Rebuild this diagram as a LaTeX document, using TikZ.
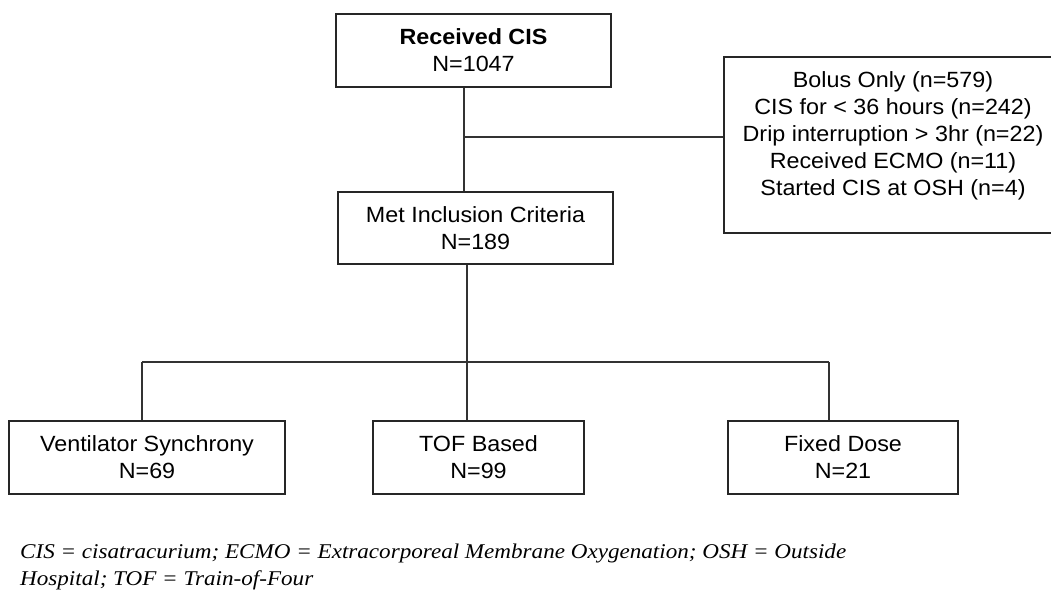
\documentclass[tikz,border=0pt]{standalone}
\usepackage{fontspec}
\setmainfont{Liberation Sans}[FakeStretch=1.06]
\newfontfamily\capfont{Liberation Serif}[FakeStretch=1.1]
\begin{document}
\begin{tikzpicture}[x=1pt,y=-1pt,
  box/.style={draw=black!85,line width=1.2pt,rectangle,inner sep=0pt,align=center,
    font=\fontsize{22}{27}\selectfont},
  conn/.style={draw=black!80,line width=1.2pt}]
\useasboundingbox[fill=white] (0,0) rectangle (1051,591);
\node[box,minimum width=275pt,minimum height=73pt] (rec) at (473.5,50.5) {\textbf{Received CIS}\\N=1047};
\node[box,minimum width=275pt,minimum height=72pt] (met) at (475.5,228) {Met Inclusion Criteria\\N=189};
\node[box,minimum width=338pt,minimum height=176pt] (excl) at (893,145) {};
\node[align=center,inner sep=0pt,font=\fontsize{22}{27}\selectfont] (excltext) at (893,135.5)
  {Bolus Only (n=579)\\CIS for {\textless} 36 hours (n=242)\\Drip interruption {\textgreater} 3hr (n=22)\\Received ECMO (n=11)\\Started CIS at OSH (n=4)};
\node[box,minimum width=276pt,minimum height=73pt] (vent) at (147,457.5) {Ventilator Synchrony\\N=69};
\node[box,minimum width=211pt,minimum height=73pt] (tof) at (478.5,457.5) {TOF Based\\N=99};
\node[box,minimum width=230pt,minimum height=73pt] (fixed) at (843,457.5) {Fixed Dose\\N=21};
\coordinate (j1) at (464,137);
\coordinate (j2) at (467,362);
\coordinate (jl) at (142,362);
\coordinate (jr) at (829,362);
\draw[conn] (rec.south -| j1) -- (met.north -| j1);
\draw[conn] (j1) -- (excl.west |- j1);
\draw[conn] (met.south -| j2) -- (j2);
\draw[conn] (jl) -- (jr);
\draw[conn] (jl) -- (vent.north -| jl);
\draw[conn] (j2) -- (tof.north -| j2);
\draw[conn] (jr) -- (fixed.north -| jr);
\node[anchor=west,align=left,inner sep=0pt,font=\capfont\itshape\fontsize{21}{27}\selectfont] (cap) at (20,566.5)
  {CIS = cisatracurium; ECMO = Extracorporeal Membrane Oxygenation; OSH = Outside\\Hospital; TOF = Train-of-Four};
\end{tikzpicture}
\end{document}
